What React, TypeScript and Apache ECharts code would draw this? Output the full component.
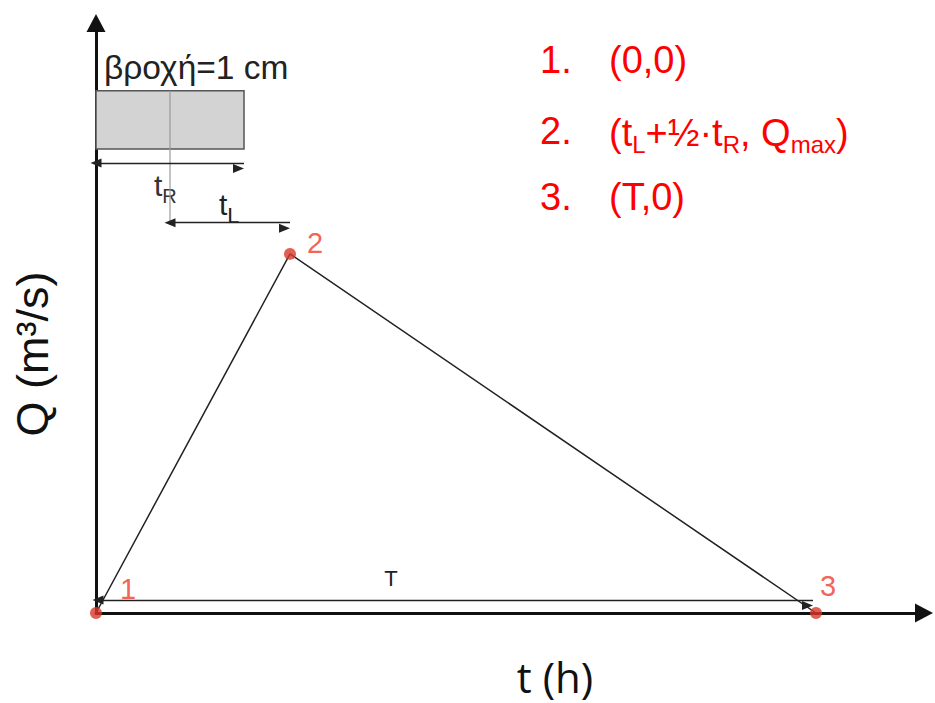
import React, { useEffect, useRef } from 'react';
import * as echarts from 'echarts';

// Triangular unit hydrograph (time in h-units, flow in arbitrary units)
const hydroTime = [0, 9.7, 36];
const hydroFlow = [0, 10, 0];
const pointNames = ['1', '2', '3'];

// rainfall block (duration tR, drawn above the hydrograph)
const rainTime = [0, 7.4];
const rainLevel = [12.92, 14.54];

// dimension lines
const tRLineTime = [0, 7.4];
const tRLineLevel = 12.53;
const tLLineTime = [3.7, 9.7];
const tLLineLevel = 10.87;
const midLineTime = 3.7;
const midLineLevel = [10.87, 14.54];
const baseLineTime = [0.1, 35.85];
const baseLineLevel = 0.36;

const axisMaxTime = 41.4;
const axisMaxFlow = 16.43;

const listNumbers = ['1.', '2.', '3.'];
const listCoords = ['(0,0)', '{n|(t}{s|L}{n|+½·t}{s|R}{n|, Q}{s|max}{n|)}', '(T,0)'];

const labelOffsets = [[32, -24], [25, -11], [12, -27]];

const FONT = 'Liberation Sans, Arial, sans-serif';
const RED = '#ff0000';
const DOT_RED = '#d9382c';

export default function App() {
  const ref = useRef<HTMLDivElement>(null);
  useEffect(() => {
    if (!ref.current) return;
    const chart = echarts.init(ref.current, undefined, { renderer: 'svg' });

    const arrowLine = (t: number[], q: number) => [
      { coord: [t[0], q] },
      { coord: [t[1], q] },
    ];

    const listRowY = [60, 135, 197];

    const txt = (x: number, y: number, text: string, fontSize: number, fill: string, align = 'left', extra: any = {}) => ({
      type: 'text', x, y, ...extra,
      style: {
        text, fontSize, fontFamily: FONT, fill,
        align, verticalAlign: 'middle', textAlign: align, textVerticalAlign: 'middle',
        ...(extra.style || {}),
      },
    });

    const graphic: any[] = [
      txt(104, 67, 'βροχή=1 cm', 33.5, '#222'),
      {
        type: 'text', x: 154, y: 188,
        style: {
          text: '{n|t}{s|R}', align: 'left', verticalAlign: 'middle', textAlign: 'left', textVerticalAlign: 'middle',
          rich: {
            n: { fontSize: 30, fontFamily: FONT, fill: '#333', lineHeight: 36, verticalAlign: 'top' },
            s: { fontSize: 20, fontFamily: FONT, fill: '#333', lineHeight: 36, verticalAlign: 'bottom' },
          },
        },
      },
      {
        type: 'text', x: 219, y: 208,
        style: {
          text: '{n|t}{s|L}', align: 'left', verticalAlign: 'middle', textAlign: 'left', textVerticalAlign: 'middle',
          rich: {
            n: { fontSize: 30, fontFamily: FONT, fill: '#222', lineHeight: 37, verticalAlign: 'top' },
            s: { fontSize: 22, fontFamily: FONT, fill: '#222', lineHeight: 37, verticalAlign: 'bottom' },
          },
        },
      },
      txt(391, 578, 'T', 22, '#222', 'center'),
      txt(32, 354, 'Q (m³/s)', 45, '#111', 'center', { rotation: Math.PI / 2 }),
      {
        type: 'text', x: 555, y: 676,
        style: { text: 't (h)', fontSize: 42, fontFamily: 'Open Sans, sans-serif', fill: '#111', align: 'center', verticalAlign: 'middle', textAlign: 'center', textVerticalAlign: 'middle' },
      },
    ];

    listNumbers.forEach((num, i) => {
      graphic.push(txt(540, listRowY[i] + (i === 1 ? -4 : 0), num, 38, RED));
      graphic.push({
        type: 'text', x: 609, y: listRowY[i],
        style: {
          text: listCoords[i], fontSize: 38, fontFamily: FONT, fill: RED,
          align: 'left', verticalAlign: 'middle', textAlign: 'left', textVerticalAlign: 'middle',
          rich: {
            n: { fontSize: 38, fontFamily: FONT, fill: RED, lineHeight: 43, verticalAlign: 'top' },
            s: { fontSize: 24, fontFamily: FONT, fill: RED, lineHeight: 43, verticalAlign: 'bottom' },
          },
        },
      });
    });

    const points = hydroTime.map((t, i) => ({
      value: [t, hydroFlow[i]],
      name: pointNames[i],
      label: { offset: labelOffsets[i] },
    }));

    const option: any = {
      animation: false,
      backgroundColor: '#ffffff',
      grid: { left: 96, right: 11, top: 23, bottom: 90 },
      xAxis: {
        type: 'value', min: 0, max: axisMaxTime,
        axisLine: { show: true, onZero: false, symbol: ['none', 'triangle'], symbolSize: [19, 18], lineStyle: { color: '#111', width: 3 } },
        axisTick: { show: false }, axisLabel: { show: false }, splitLine: { show: false },
      },
      yAxis: {
        type: 'value', min: 0, max: axisMaxFlow,
        axisLine: { show: true, onZero: false, symbol: ['none', 'triangle'], symbolSize: [19, 18], lineStyle: { color: '#111', width: 3 } },
        axisTick: { show: false }, axisLabel: { show: false }, splitLine: { show: false },
      },
      graphic,
      series: [
        {
          type: 'line', name: 'rain', silent: true, z: 1,
          data: [], symbol: 'none',
          markArea: {
            silent: true,
            itemStyle: { color: '#d3d3d3', borderColor: '#555', borderWidth: 1.5 },
            data: [[{ coord: [rainTime[0], rainLevel[1]] }, { coord: [rainTime[1], rainLevel[0]] }]],
          },
        },
        {
          type: 'line', name: 'mid', silent: true, z: 2, symbol: 'none',
          data: midLineLevel.map((q) => [midLineTime, q]),
          lineStyle: { color: '#9a9a9a', width: 1.2 },
        },
        {
          type: 'line', name: 'hydrograph', silent: true, z: 3, symbol: 'none',
          data: hydroTime.map((t, i) => [t, hydroFlow[i]]),
          lineStyle: { color: '#222', width: 1.5 },
          markLine: {
            silent: true,
            symbol: ['triangle', 'triangle'],
            symbolSize: [9, 11],
            symbolOffset: [0, 5.5],
            label: { show: false },
            lineStyle: { color: '#222', width: 1.3, type: 'solid' },
            data: [
              arrowLine(tRLineTime, tRLineLevel),
              arrowLine(tLLineTime, tLLineLevel),
              arrowLine(baseLineTime, baseLineLevel),
            ],
          },
        },
        {
          type: 'scatter', name: 'points', silent: true, z: 5,
          symbolSize: 12,
          itemStyle: { color: DOT_RED },
          label: {
            show: true, position: 'inside', formatter: '{b}',
            fontSize: 29, fontFamily: FONT, color: '#ee3a2c',
          },
          data: points,
        },
      ],
    };
    chart.setOption(option);
    return () => chart.dispose();
  }, []);

  return (
    <div
      ref={ref}
      style={{ position: 'fixed', left: 0, top: 0, width: 935, height: 703, background: '#fff' }}
    />
  );
}
